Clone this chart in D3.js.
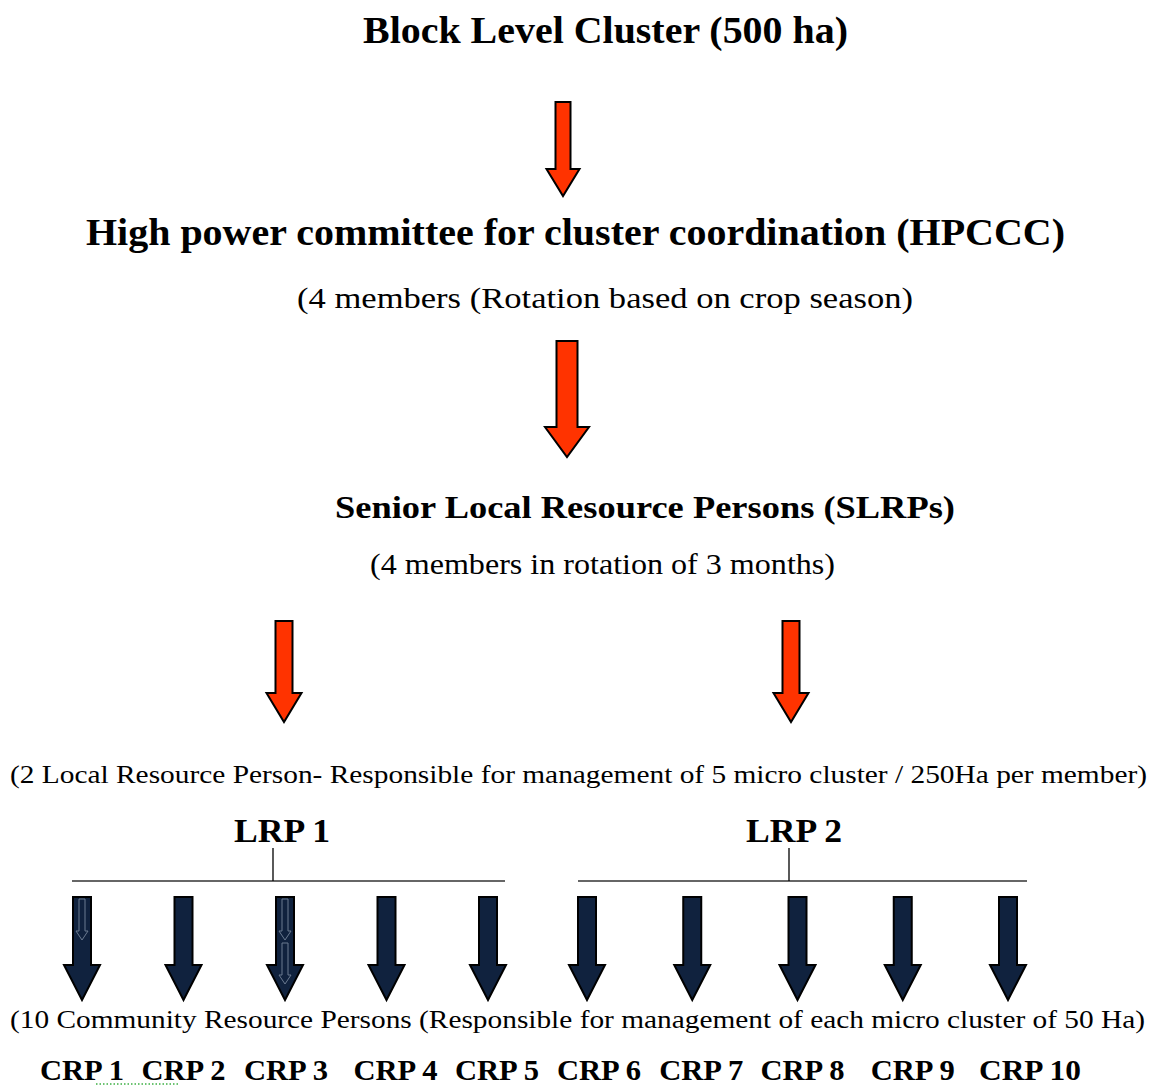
<!DOCTYPE html>
<html>
<head>
<meta charset="utf-8">
<script src="https://cdn.jsdelivr.net/npm/d3@7"></script>
<style>
  body { margin: 0; background: #fff; }
  text { font-family: "Liberation Serif", "Times New Roman", serif; fill: #000; }
</style>
</head>
<body>
<script>
// diagram content
var titles = [
  {text: "Block Level Cluster (500 ha)", x1: 363, x2: 848, y: 43, size: 38, bold: true},
  {text: "High power committee for cluster coordination (HPCCC)", x1: 86, x2: 1065, y: 245, size: 38, bold: true},
  {text: "(4 members (Rotation based on crop season)", x1: 297, x2: 913, y: 308, size: 30, bold: false},
  {text: "Senior Local Resource Persons (SLRPs)", x1: 335, x2: 955, y: 518, size: 31, bold: true},
  {text: "(4 members in rotation of 3 months)", x1: 370, x2: 835, y: 574, size: 29, bold: false},
  {text: "(2 Local Resource Person- Responsible for management of 5 micro cluster / 250Ha per member)", x1: 10, x2: 1147, y: 783, size: 25, bold: false},
  {text: "(10 Community Resource Persons (Responsible for management of each micro cluster of 50 Ha)", x1: 10, x2: 1145, y: 1028, size: 25, bold: false}
];
var lrpLabels = ["LRP 1", "LRP 2"];
var crpLabels = ["CRP 1","CRP 2","CRP 3","CRP 4","CRP 5","CRP 6","CRP 7","CRP 8","CRP 9","CRP 10"];

var W = 1154, H = 1086;
var svg = d3.select("body").append("svg")
    .attr("width", W)
    .attr("height", H);

// arrow path: cx centre, top, bottom, shaft width, head width, head length
function arrow(cx, top, bottom, sw, hw, hl) {
  var hb = bottom - hl;
  return "M" + (cx - sw/2) + "," + top +
    " L" + (cx + sw/2) + "," + top +
    " L" + (cx + sw/2) + "," + hb +
    " L" + (cx + hw/2) + "," + hb +
    " L" + cx + "," + bottom +
    " L" + (cx - hw/2) + "," + hb +
    " L" + (cx - sw/2) + "," + hb + " Z";
}

svg.selectAll("text.title")
    .data(titles)
    .enter()
    .append("text")
    .attr("class", "title")
    .attr("x", function(d){return d.x1;})
    .attr("y", function(d){return d.y;})
    .attr("textLength", function(d){return d.x2 - d.x1;})
    .attr("lengthAdjust", "spacingAndGlyphs")
    .attr("font-size", function(d){return d.size;})
    .attr("font-weight", function(d){return d.bold ? "bold" : "normal";})
    .text(function(d){return d.text;});

// red arrows
var redArrows = [
  {cx: 563, top: 102, bottom: 196, sw: 15, hw: 33, hl: 27},
  {cx: 567, top: 341, bottom: 457, sw: 21, hw: 44, hl: 30},
  {cx: 284, top: 621, bottom: 722, sw: 17, hw: 35, hl: 29},
  {cx: 791, top: 621, bottom: 722, sw: 17, hw: 35, hl: 29}
];
svg.selectAll("path.red")
    .data(redArrows)
    .enter()
    .append("path")
    .attr("class", "red")
    .attr("d", function(d){return arrow(d.cx, d.top, d.bottom, d.sw, d.hw, d.hl);})
    .attr("fill", "#ff3300")
    .attr("stroke", "#000")
    .attr("stroke-width", 2)
    .attr("stroke-linejoin", "miter");

// LRP groups
var lrpX = d3.scalePoint().domain(lrpLabels).range([282, 794]);
var groups = [
  {label: "LRP 1", x1: 72, x2: 505, stem: 273},
  {label: "LRP 2", x1: 578, x2: 1027, stem: 789}
];
svg.selectAll("text.lrp")
    .data(lrpLabels)
    .enter()
    .append("text")
    .attr("class", "lrp")
    .attr("x", function(d){return lrpX(d) - 48;})
    .attr("y", 842)
    .attr("textLength", 96)
    .attr("lengthAdjust", "spacingAndGlyphs")
    .attr("font-size", 33)
    .attr("font-weight", "bold")
    .text(function(d){return d;});

svg.selectAll("line.hbar")
    .data(groups)
    .enter()
    .append("line")
    .attr("x1", function(d){return d.x1;})
    .attr("x2", function(d){return d.x2;})
    .attr("y1", 881).attr("y2", 881)
    .attr("stroke", "#333").attr("stroke-width", 1.3);
svg.selectAll("line.stem")
    .data(groups)
    .enter()
    .append("line")
    .attr("x1", function(d){return d.stem;})
    .attr("x2", function(d){return d.stem;})
    .attr("y1", 848).attr("y2", 881)
    .attr("stroke", "#000").attr("stroke-width", 1.3);

// CRP arrows: one point scale per LRP group
var crpX1 = d3.scalePoint().domain(crpLabels.slice(0, 5)).range([82, 488]);
var crpX2 = d3.scalePoint().domain(crpLabels.slice(5)).range([587, 1008]);
function crpX(d) { return crpLabels.indexOf(d) < 5 ? crpX1(d) : crpX2(d); }

svg.selectAll("path.crp")
    .data(crpLabels)
    .enter()
    .append("path")
    .attr("class", "crp")
    .attr("d", function(d){return arrow(crpX(d), 897, 1000, 18, 36, 35);})
    .attr("fill", "#10223e")
    .attr("stroke", "#000")
    .attr("stroke-width", 2);

// faint inner outlines seen on CRP 1 and CRP 3 arrows
var ghosts = [
  {d: "CRP 1", top: 899, bottom: 940},
  {d: "CRP 3", top: 899, bottom: 940},
  {d: "CRP 3", top: 943, bottom: 984}
];
svg.selectAll("path.ghost")
    .data(ghosts)
    .enter()
    .append("path")
    .attr("class", "ghost")
    .attr("d", function(g){return arrow(crpX(g.d), g.top, g.bottom, 6, 12, 9);})
    .attr("fill", "none")
    .attr("stroke", "#6a7a90")
    .attr("stroke-width", 1);

// CRP labels
var nudge = [0, 0, 1, 9, 9, 12, 9, 5, 10, 22];
svg.selectAll("text.crp")
    .data(crpLabels)
    .enter()
    .append("text")
    .attr("class", "crp")
    .attr("x", function(d, i){return crpX(d) + nudge[i] - (i == 9 ? 51 : 42);})
    .attr("y", 1080)
    .attr("textLength", function(d, i){return i == 9 ? 102 : 84;})
    .attr("lengthAdjust", "spacingAndGlyphs")
    .attr("font-size", 29)
    .attr("font-weight", "bold")
    .text(function(d){return d;});

// spell-check dotted underline under "1  CRP 2"
svg.append("line")
    .attr("x1", 96).attr("x2", 178)
    .attr("y1", 1084).attr("y2", 1084)
    .attr("stroke", "#3cb043")
    .attr("stroke-width", 1.5)
    .attr("stroke-dasharray", "1.5,2");
</script>
</body>
</html>
